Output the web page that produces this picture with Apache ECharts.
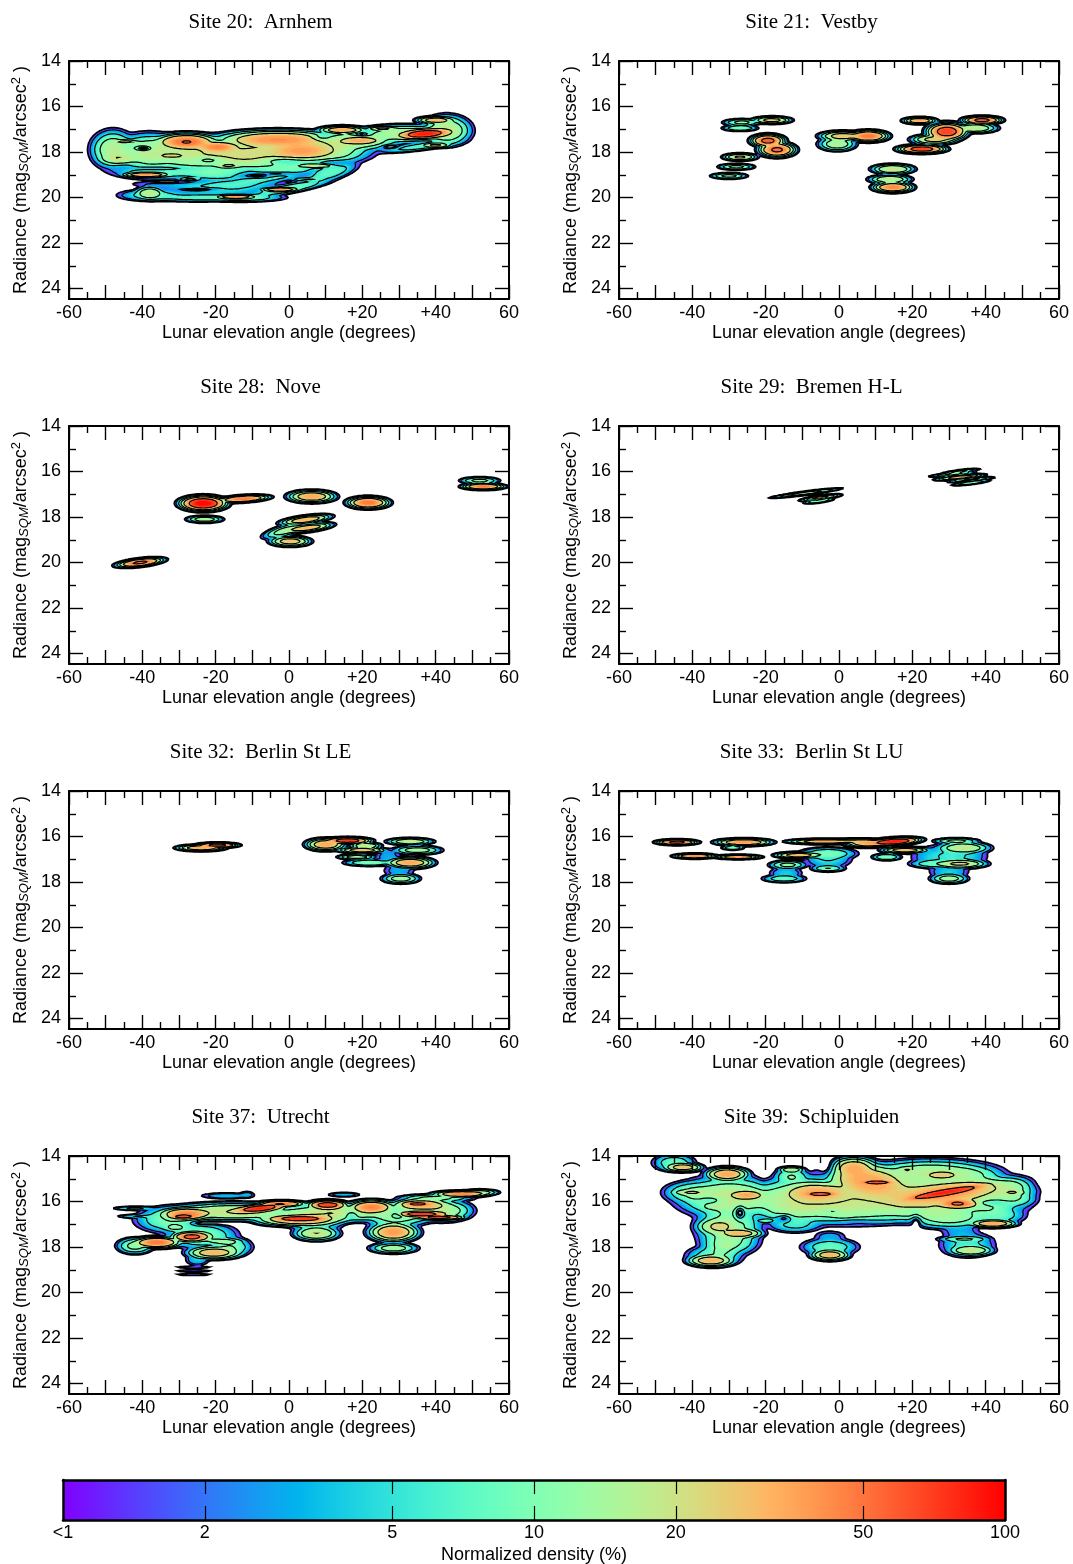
<!DOCTYPE html>
<html><head><meta charset="utf-8">
<style>html,body{margin:0;padding:0;background:#fff}#c{width:1073px;height:1564px}</style>
<script src="https://cdn.jsdelivr.net/npm/echarts@6/dist/echarts.min.js"></script>
</head><body><div id="c"></div>
<script>
// Density features: [elevation deg, radiance mag, spread deg, spread mag, peak %, tilt mag/deg]
const site20Blobs=[[37,17.2,3.5,.11,85,-.01],[40,16.6,2.5,.08,30],[40,17.7,2,.06,22],[25.5,16.97,2.2,.05,22],[14.5,17.03,3,.09,35],[19.5,17.5,3,.09,30],[-28,17.55,4,.18,50],[-19.5,17.78,3,.13,42],[-3,17.45,8,.2,40],[3,17.95,5,.22,32],[-44.5,17.55,2,.05,22],[-32,18.16,2,.06,20],[-46,18.3,3,.14,16],[-39,19,3,.06,40],[-16.5,18.6,2,.06,20],[7.5,18.6,3,.06,18],[-14.5,19.97,2.5,.05,40],[-2.5,19.65,2.5,.05,38],[-38,19.8,2,.15,16],[-27,19.2,1.8,.05,12],[5,19.2,2.5,.05,10],[-48,17.9,3,.42,16],[-38,18,5,.4,17],[-25,18.1,7,.4,18],[-10,18.1,9,.38,22],[8,17.9,7,.33,20],[18,17.5,6,.22,18],[32,17.2,7,.2,16],[43,17.05,3.3,.33,18],[-35,18.8,7,.22,9],[-20,18.9,6,.2,9],[-3,18.9,7,.22,10,-.03],[11,18.9,4,.2,8,-.04],[-37,19.9,5,.14,7],[-25,20,7,.1,7],[-13,20,6,.1,9],[0,19.6,6,.12,9,-.03],[-15,19.4,7,.15,5],[36,17.75,6,.1,7,-.02],[-33,19.4,6,.1,3],[-20,19.6,9,.2,5]];
const site20Dips=[[-39.7,17.84,1.5,.07,1],[-25,19.65,3.6,.045,1],[-8.8,19.05,3.5,.08,.92],[27.6,17.77,1.5,.05,1],[19.8,17.22,1.5,.05,.9],[-33,19.32,5,.06,.75],[-36,18.72,8,.08,.6],[9,17.35,2,.1,.5],[-2,18.4,4,.1,.5],[-3,18.95,5,.07,.8],[-22,18.35,3,.1,.5],[12,18.45,3,.1,.45]];
const site21Blobs=[[-26.5,16.7,2.5,.08,12],[-18.3,16.6,2.5,.08,25],[-27,16.95,2.4,.07,10],[-19.4,17.5,2.1,.13,60],[-16.9,17.9,2.3,.15,55],[-27,18.22,2.2,.08,22],[-28,18.65,2.4,.07,12],[-30,19.05,2.4,.07,12],[8,17.3,2.5,.12,50],[1,17.3,3,.11,28],[-.5,17.65,2.5,.15,16],[14.7,18.75,2.8,.11,20],[13.9,19.2,2.8,.1,18],[14.7,19.55,2.5,.11,45],[22,16.62,2.1,.075,35],[29.4,17.1,2.5,.18,70],[39,16.6,2.4,.085,60],[22.6,17.87,2.9,.09,70],[26,17.45,3,.11,25],[37,16.95,3,.11,18]];
const site28Blobs=[[-23.4,17.4,2.8,.15,100],[-12.5,17.2,3.2,.075,50,-.01],[6.2,17.1,3,.13,35],[21.6,17.37,2.6,.125,50],[52,16.4,2.6,.08,12],[53,16.66,2.6,.07,50],[-23,18.1,2.4,.08,15],[4.5,18.12,3.2,.09,32,-.02],[5,18.48,3.2,.09,30,-.02],[-1,18.6,3,.13,14,-.04],[.3,19.07,2.6,.11,28],[-40.6,20,2.9,.085,55,-.018]];
const site29Blobs=[[-9,16.95,4.5,.045,14,-.021],[-5,17.15,2.5,.05,25,-.021],[-5.5,17.3,2,.045,10,-.021],[33,16,2.5,.04,12,-.02],[31,16.12,3,.04,12,-.015],[33,16.25,3,.05,30,-.015],[36,16.5,2.5,.04,10,-.02],[36,16.36,3,.04,12,-.015]];
const site32Blobs=[[-19.5,16.38,2.5,.055,65],[-24,16.5,3,.07,35],[16,16.18,2.8,.07,75],[10,16.35,2.5,.13,35],[21,16.4,2,.07,20],[20,16.6,3,.07,30],[18.5,16.9,2.5,.06,15],[33,16.22,3,.08,18],[35,16.6,3.2,.1,14],[27,16.9,2,.22,3],[33,17.15,3,.12,35],[22,17.15,3.5,.08,10],[30.5,17.85,2.5,.11,14],[30,17.5,2.5,.15,3]];
const site33Blobs=[[-44.2,16.25,2.5,.06,60],[-39.3,16.86,2.6,.055,45],[-27.5,16.9,2.8,.05,40],[-26,16.25,3.5,.08,40],[-29,16.5,1.5,.05,10],[-4,16.22,4.5,.06,35],[5,16.2,4,.06,22],[-11,16.82,3,.07,30],[-14,17.25,2.5,.1,12],[-15,17.85,3,.09,8],[-14.5,17.6,2.5,.14,4],[-3,17.4,2.3,.08,10],[-3,16.75,4,.14,9],[-3,17,3.5,.22,5],[15,16.22,3.2,.08,90,-.01],[8,16.3,3,.09,35],[18,16.6,3,.07,30],[13,16.9,2,.08,10],[34,16.5,3.5,.13,18],[32,16.2,3,.07,12],[33,17.2,3.5,.1,22],[26,17.2,3.5,.1,8],[30,17.85,2.5,.11,14],[30,17.55,3,.16,4],[27,16.9,4,.28,4.5],[33,16.85,4,.3,5]];
const site37Blobs=[[-8,16.3,3.5,.09,80,-.015],[-2,16.1,3,.07,50],[-28,16.55,3.5,.14,45],[-29,16.67,2,.05,55],[10.5,16.15,2.5,.1,70],[3,16.75,4,.07,70],[3,16.8,6,.14,35],[22.5,16.25,3,.15,45],[35,16.1,2,.05,55],[36,16.15,4,.14,35],[36,16.55,3.5,.07,75],[41,16.7,3,.05,70],[47,15.67,3.5,.07,45],[52,15.6,2.5,.07,15],[40,15.85,5,.09,12],[-36,17.8,3,.12,50],[-42,17.95,2.5,.18,12],[-26.5,17.55,2.5,.11,60],[-20.5,18.25,3.5,.14,30],[-16,18,3,.22,10],[-31,17.15,2,.1,10],[-18,17.75,3,.08,12],[-42,16.3,3,.05,6],[-41,16.65,3,.05,5],[7.5,17.4,3,.16,20],[28.5,17.35,3.2,.2,38],[28.5,18.05,3.2,.12,14],[-17,15.75,4,.08,3.5],[-11.5,15.7,1.2,.09,3],[15,15.7,2.5,.06,3.5],[-25,18.55,1.8,.15,4],[-26,18.89,3.5,.04,1.8],[-26,19.05,3.5,.04,1.8],[-26,19.21,3.5,.04,1.8],[-15,16.45,9,.2,20],[12,16.5,9,.2,20],[30,16.6,5,.24,14],[42,16.4,4,.24,16],[-32,16.8,5,.3,10],[-24,17.5,5,.3,10],[28,16.9,3.5,.3,6],[7,16.95,4,.2,8]];
const site37Dips=[[-23.3,16.95,2,.05,1],[17,16.6,1.5,.15,.6],[-17,16.95,5,.07,.6],[29.5,16.6,1.5,.12,.55]];
const site39Blobs=[[29,15.6,6,.09,75,-.028],[30,15.6,9,.28,35,-.02],[32.5,16.1,3,.12,50],[10.5,15.16,2.5,.05,60],[8,15.1,6,.4,35,.02],[4,14.5,3,.22,30],[-5,15.67,2.5,.06,55],[-6,15.6,5,.25,30],[-30.5,14.8,2.8,.15,35],[-42.5,14.5,2.5,.1,28],[-45,14.3,3,.2,8],[-25,15.72,2.5,.11,32],[-40.5,15.6,2.5,.07,18],[-40,15.6,4,.25,10],[-13,14.6,1.8,.07,16],[28,14.84,2.5,.1,22],[18.5,14.6,1.3,.07,16],[47.5,15.6,1.8,.07,16],[46,15.55,4,.25,12],[42,16.97,3,.09,35],[-27,17.4,3,.11,28],[-33,17.1,3,.2,20],[-20,16.85,1.5,.06,8],[-33.5,16.25,2,.07,12],[-30.5,17.92,1.5,.08,10],[-30,17.8,4,.3,10],[-34,18.4,4,.25,8],[-35,18.6,3,.13,30],[-2.5,18.35,2.5,.12,30],[-2.5,18,4,.2,8],[-2.5,17.55,2.5,.15,3],[36,18.15,3,.12,18],[34,17.65,3.5,.07,10],[35,17.9,4,.3,6],[33,17.3,3,.2,3],[1.2,16.67,2,.05,8],[7.6,16.5,1.5,.05,6],[-5,15.9,12,.5,20],[20,15.8,11,.5,22],[38,15.9,7,.42,14],[-30,15.8,7,.45,18],[-30,17.1,4.5,.55,13],[-32,18.1,2.8,.3,8],[-13,16.4,5,.3,10],[-12,17,4,.2,6],[5,16.5,9,.28,10],[22,16.4,6,.22,12],[30,16.7,6,.25,13],[-13,14.9,2.5,.2,10],[25,14.75,9,.3,16],[35,14.85,5,.22,10],[47,15.3,3,.2,10],[48,15.9,3,.18,8],[43,16.6,4,.22,8]];
const site39Dips=[[-27,16.5,.9,.2,1],[-20.5,14.5,1.5,.45,.97],[-4,14.4,1.8,.4,.97],[21,16.95,1,.25,.95],[-15,16.74,1.5,.12,.8],[-2,16.42,2,.05,.4],[5,16.9,4,.1,.5],[20,16.4,4,.07,.4],[-35,15.94,2.5,.12,.5],[42,16.05,3,.1,.5]];

const siteTitles=['Site 20:  Arnhem','Site 21:  Vestby','Site 28:  Nove','Site 29:  Bremen H-L','Site 32:  Berlin St LE','Site 33:  Berlin St LU','Site 37:  Utrecht','Site 39:  Schipluiden'];
const siteBlobs=[site20Blobs,site21Blobs,site28Blobs,site29Blobs,site32Blobs,site33Blobs,site37Blobs,site39Blobs];
const siteDips=[site20Dips,[],[],[],[],[],site37Dips,site39Dips];
const xTickLabels={'-60':'-60','-40':'-40','-20':'-20','0':'0','20':'+20','40':'+40','60':'60'};
const yMajorTicks=[14,16,18,20,22,24];
const yMinorTicks=[15,17,19,21,23];
const contourLevels=[1,2,5,10,20,50];
const colorbarTicks=[2,5,10,20,50];
const colorbarLabels={'1':'<1','2':'2','5':'5','10':'10','20':'20','50':'50','100':'100'};
const xTitle='Lunar elevation angle (degrees)';
const yTitle='{a|Radiance (mag}{s|SQM}{a|/arcsec}{u|2}{a| )}';
const barTitle='Normalized density (%)';

const SANS='"Liberation Sans",Arial,sans-serif', SERIF='"Liberation Serif","Times New Roman",serif';
const X0=-66,X1=66,Y0=13,Y1=25.5,DX=.5,DY=.04;
const NX=Math.round((X1-X0)/DX)+1, NY=Math.round((Y1-Y0)/DY)+1;
const P=2, SPREAD=1.2, SHARP=1.3;

function rainbow(t){ // colour ramp of the scale bar, t in 0..1
  const r=Math.min(1,Math.abs(2*t-.5)),g=Math.sin(Math.PI*t),b=Math.cos(Math.PI*t/2);
  const h=v=>Math.round(Math.max(0,v)*255);
  return 'rgb('+h(r)+','+h(g)+','+h(b)+')';
}
function buildField(blobs,dips){
  const f=new Float64Array(NX*NY);
  for(const b of blobs){
    const [cx,cy,sx0,sy0,a,sl=0]=b, sx=sx0*SPREAD, sy=sy0*SPREAD;
    const i0=Math.max(0,Math.floor((cx-4*sx-X0)/DX)),i1=Math.min(NX-1,Math.ceil((cx+4*sx-X0)/DX));
    for(let i=i0;i<=i1;i++){
      const x=X0+i*DX,u=(x-cx)/sx,yc=cy+sl*(x-cx);
      const j0=Math.max(0,Math.floor((yc-4*sy-Y0)/DY)),j1=Math.min(NY-1,Math.ceil((yc+4*sy-Y0)/DY));
      for(let j=j0;j<=j1;j++){
        const v=(Y0+j*DY-yc)/sy;
        f[j*NX+i]+=Math.pow(a*Math.exp(-.5*Math.pow(u*u+v*v,SHARP)),P);
      }
    }
  }
  for(let k=0;k<f.length;k++) f[k]=f[k]>0?Math.pow(f[k],1/P):0;
  for(const d of dips){
    const [cx,cy,sx,sy,a]=d;
    for(let i=0;i<NX;i++){const x=X0+i*DX,u=(x-cx)/sx; if(Math.abs(u)>4)continue;
      for(let j=0;j<NY;j++){const v=(Y0+j*DY-cy)/sy; if(Math.abs(v)>4)continue;
        f[j*NX+i]*=1-a*Math.exp(-.5*(u*u+v*v));}}
  }
  for(let k=0;k<f.length;k++) f[k]=Math.log10(Math.max(f[k],1e-3));
  return f;
}
const SEG={1:[[3,2]],2:[[2,1]],3:[[3,1]],4:[[1,0]],5:[[3,2],[1,0]],6:[[2,0]],7:[[3,0]],8:[[0,3]],9:[[0,2]],10:[[0,3],[2,1]],11:[[0,1]],12:[[1,3]],13:[[1,2]],14:[[2,3]]};
function contour(f,L){
  const next=new Map();
  const pt=new Map();
  const key=(i,j,e)=>{
    if(e===0) return (j*NX+i)*2;
    if(e===2) return ((j+1)*NX+i)*2;
    if(e===3) return (j*NX+i)*2+1;
    return (j*NX+i+1)*2+1;
  };
  const place=(i,j,e)=>{
    let ax,ay,bx,by;
    if(e===0){ax=i;ay=j;bx=i+1;by=j}
    else if(e===2){ax=i;ay=j+1;bx=i+1;by=j+1}
    else if(e===3){ax=i;ay=j;bx=i;by=j+1}
    else {ax=i+1;ay=j;bx=i+1;by=j+1}
    const va=f[ay*NX+ax],vb=f[by*NX+bx],t=(L-va)/(vb-va);
    return [X0+(ax+t*(bx-ax))*DX,Y0+(ay+t*(by-ay))*DY];
  };
  for(let j=0;j<NY-1;j++)for(let i=0;i<NX-1;i++){
    const c=(f[j*NX+i]>=L?8:0)|(f[j*NX+i+1]>=L?4:0)|(f[(j+1)*NX+i+1]>=L?2:0)|(f[(j+1)*NX+i]>=L?1:0);
    if(c===0||c===15)continue;
    for(const s of SEG[c]){
      const a=key(i,j,s[0]),b=key(i,j,s[1]);
      next.set(a,b);
      if(!pt.has(a))pt.set(a,place(i,j,s[0]));
      if(!pt.has(b))pt.set(b,place(i,j,s[1]));
    }
  }
  const loops=[];
  for(const start of next.keys()){
    if(!next.has(start))continue;
    const loop=[];let k=start;
    while(next.has(k)){loop.push(pt.get(k));const n=next.get(k);next.delete(k);k=n;}
    if(loop.length>2)loops.push(loop);
  }
  return loops;
}
const FILL_STEP=.05;
const layers=siteBlobs.map((blobs,i)=>{
  const f=buildField(blobs,siteDips[i]);
  const out=[];
  for(let l=0;l<2;l+=FILL_STEP){
    out.push({level:Math.pow(10,l),fill:rainbow(Math.min(1,(l+FILL_STEP/2)/2)),loops:contour(f,l+1e-7)});
  }
  contourLevels.forEach((v,n)=>{
    out.push({level:v,stroke:'#000',width:n===0?1.7:1.2,loops:contour(f,Math.log10(v)+1e-7)});
  });
  return out;
});

const col=[69,619],rowTop=[61,426,791,1156],W=440,H=238,YMAX=14+238/22.75;
const grids=[],xAxes=[],yAxes=[],series=[],titles=[];
const tickStyle={color:'#000',width:1.4};
function renderLayer(panel){
  return function(params,api){
    const L=layers[panel][params.dataIndex];
    let d='';
    for(const loop of L.loops){
      for(let k=0;k<loop.length;k++){
        const p=api.coord(loop[k]);
        d+=(k?'L':'M')+p[0].toFixed(1)+' '+p[1].toFixed(1);
      }
      d+='Z';
    }
    if(!d)return null;
    return {type:'path',shape:{pathData:d},
      style:L.stroke?{fill:null,stroke:L.stroke,lineWidth:L.width}:{fill:L.fill,stroke:null}};
  };
}
siteTitles.forEach((t,i)=>{
  const c=i%2,r=(i-c)/2;
  grids.push({left:col[c],top:rowTop[r],width:W,height:H,outerBoundsMode:'none'});
  titles.push({text:t,left:col[c]+186.5+(c?1:0),top:rowTop[r]-54,textAlign:'center',
    textStyle:{fontFamily:SERIF,fontSize:21,fontWeight:'normal',color:'#000'}});
  const xBase={type:'value',min:-60,max:60,interval:10,gridIndex:i,z:10,splitLine:{show:false},
    axisLine:{show:true,onZero:false,lineStyle:{color:'#000',width:2}},
    axisTick:{show:true,inside:true,length:14,lineStyle:tickStyle},
    minorTick:{show:true,splitNumber:2,length:7,lineStyle:tickStyle},minorSplitLine:{show:false}};
  xAxes.push(Object.assign({},xBase,{position:'bottom',name:xTitle,nameLocation:'middle',nameGap:25,
    nameTextStyle:{fontFamily:SANS,fontSize:18,color:'#000'},
    axisLabel:{show:true,margin:5,color:'#000',fontFamily:SANS,fontSize:18,hideOverlap:false,showMinLabel:true,showMaxLabel:true,
      formatter:v=>xTickLabels[String(v)]||''}}));
  xAxes.push(Object.assign({},xBase,{position:'top',axisLabel:{show:false}}));
  const yBase={type:'value',inverse:true,min:14,max:YMAX,gridIndex:i,z:10,scale:true,splitLine:{show:false},interval:2};
  const major={show:true,inside:true,length:14,customValues:yMajorTicks,lineStyle:tickStyle};
  const minor={show:true,inside:true,length:7,customValues:yMinorTicks,lineStyle:tickStyle};
  const line={show:true,onZero:false,lineStyle:{color:'#000',width:2}};
  const noLine={show:false,onZero:false};
  yAxes.push(Object.assign({},yBase,{position:'left',axisLine:line,axisTick:major,name:yTitle,nameLocation:'middle',nameGap:37,nameRotate:90,
    nameTextStyle:{fontFamily:SANS,fontSize:18,color:'#000',rich:{
      a:{fontFamily:SANS,fontSize:18,color:'#000'},
      s:{fontFamily:SANS,fontSize:13,fontStyle:'italic',color:'#000',padding:[7,0,0,0]},
      u:{fontFamily:SANS,fontSize:13,color:'#000',padding:[0,0,9,0]}}},
    axisLabel:{show:true,margin:8,color:'#000',fontFamily:SANS,fontSize:18,customValues:yMajorTicks,formatter:v=>String(v)}}));
  yAxes.push(Object.assign({},yBase,{position:'left',axisLine:noLine,axisTick:minor,axisLabel:{show:false}}));
  yAxes.push(Object.assign({},yBase,{position:'right',axisLine:line,axisTick:major,axisLabel:{show:false}}));
  yAxes.push(Object.assign({},yBase,{position:'right',axisLine:noLine,axisTick:minor,axisLabel:{show:false}}));
  series.push({type:'custom',xAxisIndex:i*2,yAxisIndex:i*4,clip:true,silent:true,animation:false,z:2,
    data:layers[i].map(l=>[0,14,l.level]),renderItem:renderLayer(i)});
});

// Scale bar
const gi=grids.length;
grids.push({left:63,top:1480,width:942,height:40,outerBoundsMode:'none'});
const stops=[];for(let k=0;k<=40;k++)stops.push({offset:k/40,color:rainbow(k/40)});
const barMin=Math.log10(1),barMax=Math.log10(100);
const barTicks=colorbarTicks.map(v=>Math.log10(v));
const barLabelVals=[1].concat(colorbarTicks,[100]).map(v=>Math.log10(v));
const barTick={show:true,inside:true,length:14,customValues:barTicks,lineStyle:{color:'#000',width:1.2}};
const barLine={show:true,onZero:false,lineStyle:{color:'#000',width:2.5}};
const nearest=v=>String(Math.round(Math.pow(10,v)));
xAxes.push({type:'value',gridIndex:gi,min:barMin,max:barMax,position:'bottom',z:10,splitLine:{show:false},axisLine:barLine,axisTick:barTick,
  name:barTitle,nameLocation:'middle',nameGap:26,nameTextStyle:{fontFamily:SANS,fontSize:18,color:'#000'},
  axisLabel:{show:true,margin:4,color:'#000',fontFamily:SANS,fontSize:18,customValues:barLabelVals,formatter:v=>colorbarLabels[nearest(v)]}});
xAxes.push({type:'value',gridIndex:gi,min:barMin,max:barMax,position:'top',z:10,splitLine:{show:false},axisLine:barLine,axisTick:barTick,axisLabel:{show:false}});
yAxes.push({type:'value',gridIndex:gi,min:0,max:1,position:'left',z:10,splitLine:{show:false},axisLine:barLine,axisTick:{show:false},axisLabel:{show:false}});
yAxes.push({type:'value',gridIndex:gi,min:0,max:1,position:'right',z:10,splitLine:{show:false},axisLine:barLine,axisTick:{show:false},axisLabel:{show:false}});
series.push({type:'custom',xAxisIndex:xAxes.length-2,yAxisIndex:yAxes.length-2,silent:true,animation:false,z:2,
  data:[[barMin,0,barMax,1]],
  renderItem:(p,api)=>{
    const a=api.coord([api.value(0),api.value(1)]),b=api.coord([api.value(2),api.value(3)]);
    return {type:'rect',shape:{x:a[0],y:b[1],width:b[0]-a[0],height:a[1]-b[1]},
      style:{fill:new echarts.graphic.LinearGradient(0,0,1,0,stops)}};
  }});

const chart=echarts.init(document.getElementById('c'),null,{renderer:'canvas',width:1073,height:1564});
chart.setOption({animation:false,backgroundColor:'#fff',title:titles,grid:grids,xAxis:xAxes,yAxis:yAxes,series:series});
</script></body></html>
